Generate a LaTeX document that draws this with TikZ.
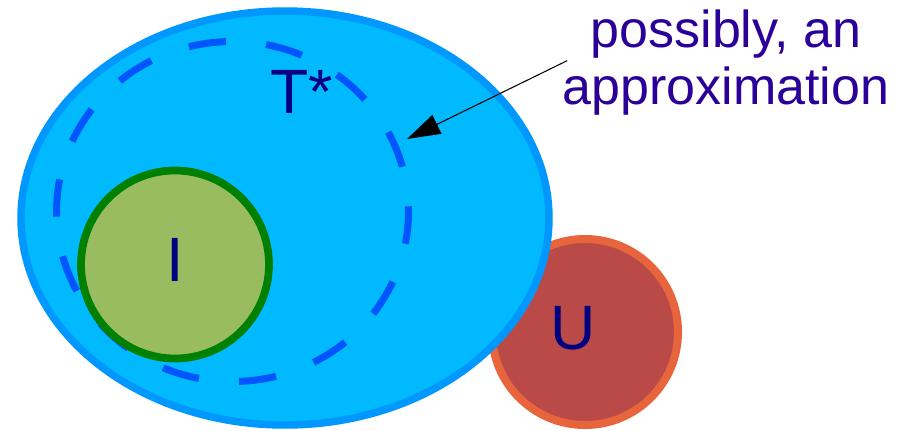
\documentclass[tikz,border=0pt]{standalone}
\usepackage{fontspec}
\setmainfont{Liberation Sans}
\usetikzlibrary{shapes.geometric,arrows.meta}
\definecolor{skyfill}{HTML}{00B9FF}
\definecolor{skyline}{HTML}{0098FF}
\definecolor{dashblue}{HTML}{0055FF}
\definecolor{greenfill}{HTML}{98BC5F}
\definecolor{greenline}{HTML}{008000}
\definecolor{ufill}{HTML}{B94A48}
\definecolor{uline}{HTML}{E8643C}
\definecolor{setnavy}{HTML}{000080}
\definecolor{notecol}{HTML}{2B0099}
\begin{document}
\begin{tikzpicture}[x=0.75pt,y=-0.75pt,
  setshape/.style={inner sep=0pt, outer sep=0pt},
  setname/.style={inner sep=0pt, anchor=base, text=setnavy, font=\fontsize{47}{52}\selectfont},
  notetext/.style={inner sep=0pt, align=center, text=notecol, font=\fontsize{39}{42.75}\selectfont}
]
\useasboundingbox[fill=white] (0,0) rectangle (909,430);
% U circle (behind the big ellipse)
\node[setshape, circle, minimum size=139.5pt, fill=ufill, draw=uline, line width=6pt] (ucirc) at (585,332) {};
% big ellipse
\node[setshape, ellipse, minimum width=396pt, minimum height=310.5pt, fill=skyfill, draw=skyline, line width=5.6pt] (tell) at (285,218) {};
% dashed approximation
\node[setshape, ellipse, minimum width=264pt, minimum height=255pt, draw=dashblue, line width=5.25pt, dash pattern=on 28.1pt off 30.136pt, dash phase=24.2pt] (tstar) at (232.5,211.5) {};
% I circle
\node[setshape, circle, minimum size=141pt, fill=greenfill, draw=greenline, line width=5.8pt] (icirc) at (175,264.5) {};
% names
\node[setname] (tlab) at (302,113) {T*};
\node[setname] (ilab) at (175.5,281) {I};
\node[setname] (ulab) at (573,349.5) {U};
% note and arrow
\node[notetext] (note) at (726,63) {possibly, an\\approximation};
\coordinate (tip) at (407,139);
\draw[line width=0.8pt, -{Triangle[length=25pt,width=15.5pt]}, shorten <=-4pt] (note.west) -- (tip);
\end{tikzpicture}
\end{document}
